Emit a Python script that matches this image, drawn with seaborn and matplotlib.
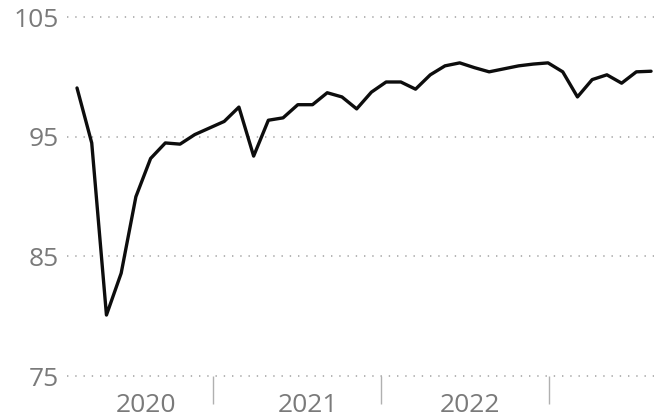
import matplotlib
matplotlib.use("Agg")
import matplotlib.pyplot as plt
import seaborn as sns
import pandas as pd

# Data (monthly index)
values = [99.1, 94.5, 80.1, 83.6, 90.0, 93.2, 94.5, 94.4, 95.2, 95.75,
          96.3, 97.5, 93.4, 96.4, 96.6, 97.7, 97.7, 98.7, 98.35, 97.35,
          98.75, 99.6, 99.6, 99.0, 100.2, 100.95, 101.2, 100.8, 100.45, 100.7,
          100.95, 101.1, 101.2, 100.45, 98.35, 99.8, 100.2, 99.5, 100.45, 100.5]
period = list(range(len(values)))
year_labels = ["2020", "2021", "2022"]
year_label_pos = [4.69, 15.69, 26.7]
year_sep_pos = [9.24, 20.65, 32.07]
y_ticks = [75, 85, 95, 105]

df = pd.DataFrame({"period": period, "value": values})

sns.set_theme(style="white")
plt.rcParams['font.family'] = ['Open Sans', 'DejaVu Sans']

fig = plt.figure(figsize=(6.54, 4.17), dpi=100)
ax = fig.add_axes([67/654, (417-376)/417, (654-67)/654, (376-5.5)/417])

sns.lineplot(data=df, x="period", y="value", ax=ax, color="#0d0d0d",
             linewidth=2.4, zorder=3)

ax.set_ylim(75, 106)
ax.set_xlim(-0.68, 39.2)
for s in ax.spines.values():
    s.set_visible(False)

ax.set_yticks(y_ticks)
ax.set_yticklabels([str(t) for t in y_ticks])
ax.tick_params(axis="y", left=False, length=0, pad=6, labelsize=19,
               labelcolor="#7a7a7a")
for t in y_ticks:
    ax.axhline(t, color="#a0a0a0", linewidth=1.1, linestyle=(0, (0.9, 4.5)),
               zorder=1, clip_on=False)

ax.set_xticks(year_sep_pos)
ax.set_xticklabels([])
ax.tick_params(axis="x", which="major", bottom=True, direction="out",
               length=20, width=1.0, color="#b0b0b0")
ax.set_xticks(year_label_pos, minor=True)
ax.set_xticklabels(year_labels, minor=True)
ax.tick_params(axis="x", which="minor", bottom=True, length=0, pad=12,
               labelsize=19, labelcolor="#7a7a7a")
ax.set_xlabel("")
ax.set_ylabel("")
ax.grid(False)

fig.savefig("out.png", dpi=100)
